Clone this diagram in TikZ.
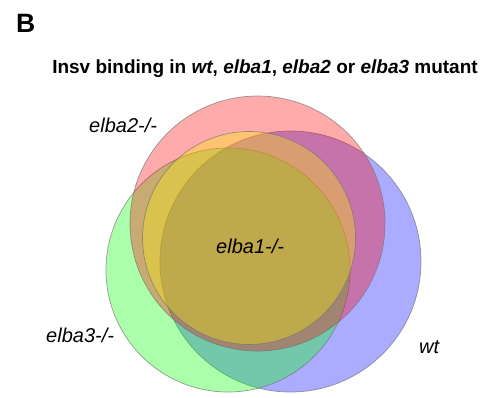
\documentclass[tikz,border=0pt]{standalone}
\usepackage{fontspec}
\setmainfont{Liberation Sans}
\begin{document}
\begin{tikzpicture}[x=1pt,y=-1pt,
  setcircle/.style={draw=black!55, line width=0.7pt, draw opacity=0.7, fill opacity=0.33},
  setlabel/.style={font=\fontsize{20}{24}\selectfont\itshape, inner sep=0pt, anchor=base west}]
\useasboundingbox (0,0) rectangle (494,397);

% four overlapping sets, translucent fills
\path[setcircle, fill=blue]   (290.5,261.5) circle (130.5pt);
\path[setcircle, fill=green]  (228,270)     circle (122pt);
\path[setcircle, fill=red]    (257.5,223.5) circle (127.5pt);
\path[setcircle, fill=yellow] (249,238)     circle (106.5pt);

% panel letter and heading
\node[font=\fontsize{26.5}{30}\selectfont\bfseries, inner sep=0pt, anchor=base west] (panel) at (16,32) {B};
\node[font=\fontsize{19}{22}\selectfont\bfseries, inner sep=0pt, anchor=base] (title) at (265,73)
  {Insv binding in \textit{wt}, \textit{elba1}, \textit{elba2} or \textit{elba3} mutant};

% set labels
\node[setlabel] (lbltwo)   at (89,132)  {elba2-/-};
\node[setlabel] (lblone)   at (216,253) {elba1-/-};
\node[setlabel] (lblthree) at (46,342)  {elba3-/-};
\node[setlabel] (lblwt)    at (419,353) {wt};
\end{tikzpicture}
\end{document}
